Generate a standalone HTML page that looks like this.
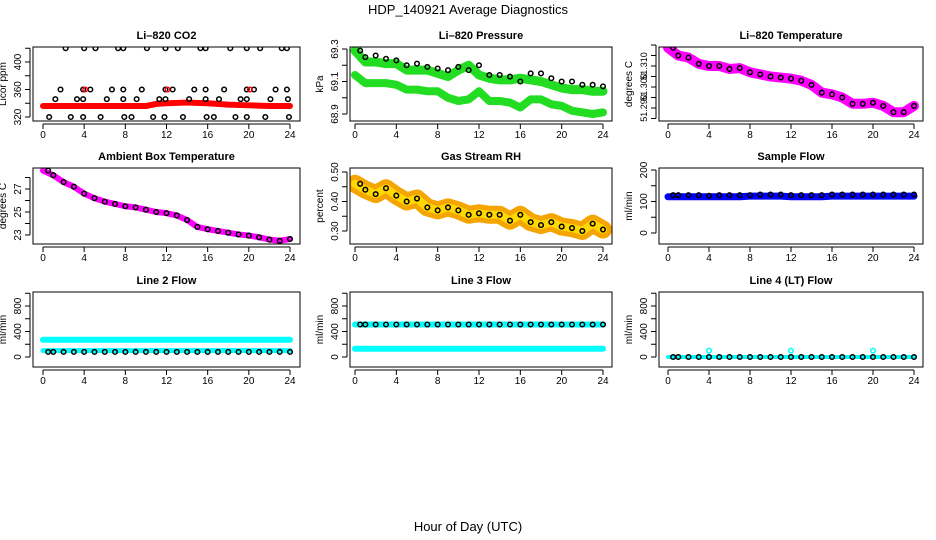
<!DOCTYPE html>
<html><head><meta charset="utf-8"><style>
body{margin:0;background:#fff;}
svg{display:block;font-family:"Liberation Sans",Arial,sans-serif;}
</style></head><body>
<svg id="chart" width="936" height="540" viewBox="0 0 936 540">
<text x="468" y="14" text-anchor="middle" font-size="13">HDP_140921  Average Diagnostics</text>
<text x="468" y="531" text-anchor="middle" font-size="13">Hour of Day (UTC)</text>
</svg>
<script>
const hoursHourly=[0,1,2,3,4,5,6,7,8,9,10,11,12,13,14,15,16,17,18,19,20,21,22,23,24];
const xTicks=[0,4,8,12,16,20,24];
// CO2
const co2RedHours=[0,2,4,6,8,10,11,12,14,16,18,20,22,24];
const co2Red=[336,336,336,336,336,336,339,340,341,340,338,337,336,336];
const co2BlackHours=[2.2,4.0,5.1,7.3,7.8,10.1,11.9,13.1,15.3,15.8,18.2,19.8,21.1,23.2,23.7,1.7,3.9,4.6,6.7,7.8,9.6,11.9,12.6,14.7,15.8,17.6,19.8,20.5,22.6,23.7,1.2,3.3,3.9,6.2,7.8,9.1,11.3,11.9,14.2,15.8,17.1,19.2,19.8,22.1,23.8,0.6,2.7,3.9,5.6,7.9,8.6,10.7,11.8,13.6,15.9,16.6,18.7,19.8,21.6,23.9];
const co2Black=[420,420,420,420,420,420,420,420,420,420,420,420,420,420,420,360,360,360,360,360,360,360,360,360,360,360,360,360,360,360,346,346,346,346,346,346,346,346,346,346,346,346,346,346,346,320,320,320,320,320,320,320,320,320,320,320,320,320,320,320];
const co2OutHours=[4.1,12.1,20.1];
const co2Out=[360,360,360];
// Pressure
const presUpper=[69.29,69.22,69.22,69.21,69.21,69.17,69.17,69.17,69.15,69.13,69.17,69.20,69.14,69.12,69.11,69.11,69.12,69.11,69.10,69.08,69.06,69.05,69.05,69.04,69.04];
const presLower=[69.14,69.09,69.09,69.09,69.08,69.05,69.05,69.04,69.04,69.00,68.98,68.99,69.04,68.98,68.98,68.97,68.94,68.99,68.99,68.96,68.95,68.92,68.91,68.90,68.91];
const presBlack=[69.29,69.25,69.26,69.24,69.23,69.20,69.21,69.19,69.18,69.17,69.19,69.17,69.20,69.14,69.14,69.13,69.10,69.15,69.15,69.12,69.10,69.10,69.08,69.08,69.07];
// Li-820 temperature
const tempLi=[51.3187,51.315,51.314,51.311,51.310,51.310,51.3086,51.309,51.307,51.306,51.305,51.3045,51.304,51.303,51.301,51.2973,51.2965,51.295,51.292,51.292,51.2925,51.291,51.288,51.288,51.291];
// Ambient
const ambient=[28.6,28.2,27.6,27.2,26.6,26.2,25.9,25.7,25.5,25.4,25.2,25.0,24.9,24.7,24.3,23.7,23.5,23.35,23.2,23.05,22.95,22.8,22.6,22.5,22.65];
// RH
const rhBlack=[0.46,0.44,0.425,0.445,0.42,0.40,0.41,0.38,0.37,0.38,0.37,0.355,0.36,0.355,0.355,0.335,0.355,0.33,0.32,0.33,0.315,0.31,0.30,0.325,0.305];
// Flows
const sampleBlue=[115,115,115,115,115,115,115,115,117,117,117,117,115,115,115,115,117,117,117,117,117,117,117,117,117];
const sampleBlack=[120,120,120,120,118,120,120,120,120,122,122,122,120,120,120,120,122,122,122,122,122,122,122,122,122];
const line2High=[270,270,270,270,270,270,270,270,270,270,270,270,270,270,270,270,270,270,270,270,270,270,270,270,270];
const line2Low=[100,100,100,100,100,100,100,100,100,100,100,100,100,100,100,100,100,100,100,100,100,100,100,100,100];
const line2Black=[80,80,80,80,80,80,80,80,80,80,80,80,80,80,80,80,80,80,80,80,80,80,80,80,80];
const line3High=[510,510,510,510,510,510,510,510,510,510,510,510,510,510,510,510,510,510,510,510,510,510,510,510,510];
const line3Low=[130,130,130,130,130,130,130,130,130,130,130,130,130,130,130,130,130,130,130,130,130,130,130,130,130];
const line3Black=[510,510,510,510,510,510,510,510,510,510,510,510,510,510,510,510,510,510,510,510,510,510,510,510,510];
const line4Cyan=[0,0,0,0,0,0,0,0,0,0,0,0,0,0,0,0,0,0,0,0,0,0,0,0,0];
const line4Black=[0,0,0,0,0,0,0,0,0,0,0,0,0,0,0,0,0,0,0,0,0,0,0,0,0];
const line4OutHours=[4,12,20];
const line4Out=[100,100,100];

const svg=document.getElementById('chart');
const NS='http://www.w3.org/2000/svg';
function mk(tag,attrs,parent){const e=document.createElementNS(NS,tag);for(const k in attrs)e.setAttribute(k,attrs[k]);(parent||svg).appendChild(e);return e;}

const cols=[{l:33,r:300,x0:43,x24:290},{l:350,r:612,x0:355,x24:603},{l:659,r:923,x0:668,x24:914}];
const rows=[{t:47,b:121},{t:168,b:244},{t:292,b:367}];

function panel(ci,ri,title,ylab,a0,p0,a1,p1,ticks,labels,name,lfs){
  const c=cols[ci],r=rows[ri];
  const g=mk('g',{});
  
  
  const sx=h=>c.x0+(c.x24-c.x0)*h/24;
  const sy=v=>p0+(v-a0)*(p1-p0)/(a1-a0);
  const t=mk('text',{x:(c.l+c.r)/2,y:r.t-8,'text-anchor':'middle','font-size':11,'font-weight':'bold'},g);
  t.textContent=title;
  
  
  const clipId='clip'+ci+ri;
  const cp=mk('clipPath',{id:clipId},g);mk('rect',{x:c.l,y:r.t,width:c.r-c.l,height:r.b-r.t},cp);
  const plot=mk('g',{'clip-path':'url(#'+clipId+')'},g);
  
  
  const box=mk('rect',{x:c.l,y:r.t,width:c.r-c.l,height:r.b-r.t,fill:'none',stroke:'#000','stroke-width':1},g);
  
  
  mk('line',{x1:sx(0),x2:sx(24),y1:r.b+3,y2:r.b+3,stroke:'#000'},g);
  xTicks.forEach(h=>{mk('line',{x1:sx(h),x2:sx(h),y1:r.b+3,y2:r.b+8,stroke:'#000'},g);
    const tl=mk('text',{x:sx(h),y:r.b+17,'text-anchor':'middle','font-size':10},g);tl.textContent=h;
    
    });
  mk('line',{x1:c.l-3,x2:c.l-3,y1:sy(ticks[0]),y2:sy(ticks[ticks.length-1]),stroke:'#000'},g);
  ticks.forEach((v,i)=>{const y=sy(v);mk('line',{x1:c.l-3,x2:c.l-8,y1:y,y2:y,stroke:'#000'},g);
    if(labels[i]){const tl=mk('text',{x:c.l-12,y:y,'text-anchor':'middle','font-size':lfs||10,transform:'rotate(-90 '+(c.l-12)+' '+y+')'},g);tl.textContent=labels[i];
    
    }});
  const ym=(r.t+r.b)/2,yx=c.l-27;
  const yl=mk('text',{x:yx,y:ym,'text-anchor':'middle','font-size':10,transform:'rotate(-90 '+yx+' '+ym+')'},g);yl.textContent=ylab;
  
  
  return {sx,sy,plot};
}
function band(P,hours,vals,color,w,name){
  const pts=hours.map((h,i)=>P.sx(h)+','+P.sy(vals[i])).join(' ');
  const e=mk('polyline',{points:pts,fill:'none',stroke:color,'stroke-width':w,'stroke-linejoin':'round','stroke-linecap':'round'},P.plot);
  
  
}
function pts(P,hours,vals,color,name,rad,fill){
  hours.forEach((h,i)=>{const e=mk('circle',{cx:P.sx(h),cy:P.sy(vals[i]),r:rad||2.3,fill:fill||'none',stroke:color,'stroke-width':1.5},P.plot);
    
    });
}
const hShift=hoursHourly.map(h=>Math.max(0.5,h));

let P=panel(0,0,'Li\u2013820 CO2','Licor ppm',320,117,400,62,[320,340,360,380,400,420],['320','','360','','400',''],'panel-co2');
band(P,co2RedHours,co2Red,'#ff0000',6,'co2-red-band');
pts(P,co2BlackHours,co2Black,'#000','co2-point');
pts(P,co2OutHours,co2Out,'#ff0000','co2-red-point');

P=panel(1,0,'Li\u2013820 Pressure','kPa',68.9,114,69.3,49,[68.9,69.0,69.1,69.2,69.3],['68.9','','69.1','','69.3'],'panel-pressure');
band(P,hoursHourly,presUpper,'#22dd22',9,'pressure-upper-band');
band(P,hoursHourly,presLower,'#22dd22',8,'pressure-lower-band');
pts(P,hShift,presBlack,'#000','pressure-point');

P=panel(2,0,'Li\u2013820 Temperature','degrees C',51.29,108,51.31,66,[51.285,51.29,51.295,51.30,51.305,51.31,51.315,51.32],['','51.290','','51.300','','51.310','',''],'panel-li-temp',9);
band(P,hoursHourly,tempLi,'#ff00ff',10,'li-temp-band');
pts(P,hShift,tempLi,'#000','li-temp-point');

P=panel(0,1,'Ambient Box Temperature','degrees C',23,235,27,189,[23,24,25,26,27,28],['23','','25','','27',''],'panel-ambient');
band(P,hoursHourly,ambient,'#ff00ff',6,'ambient-band');
pts(P,hShift,ambient,'#000','ambient-point');

P=panel(1,1,'Gas Stream RH','percent',0.30,231,0.50,172,[0.30,0.35,0.40,0.45,0.50],['0.30','','0.40','','0.50'],'panel-rh');
band(P,hoursHourly,rhBlack,'#f5a500',18,'rh-band');
band(P,hoursHourly,rhBlack,'#ffd800',8,'rh-band-core');
pts(P,hShift,rhBlack,'#000','rh-point');

P=panel(2,1,'Sample Flow','ml/min',0,233,200,170,[0,50,100,150,200],['0','','100','','200'],'panel-sample-flow');
band(P,hoursHourly,sampleBlue,'#0000ff',7,'sample-flow-band');
pts(P,hShift,sampleBlack,'#000','sample-flow-point');

P=panel(0,2,'Line 2 Flow','ml/min',0,357,800,306,[0,200,400,600,800,1000],['0','','400','','800',''],'panel-line2');
band(P,hoursHourly,line2High,'#00ffff',6,'line2-high-band');
band(P,hoursHourly,line2Low,'#00ffff',5,'line2-low-band');
pts(P,hShift,line2Black,'#000','line2-point');

P=panel(1,2,'Line 3 Flow','ml/min',0,357,800,306,[0,200,400,600,800,1000],['0','','400','','800',''],'panel-line3');
band(P,hoursHourly,line3High,'#00ffff',6,'line3-high-band');
band(P,hoursHourly,line3Low,'#00ffff',6,'line3-low-band');
pts(P,hShift,line3Black,'#000','line3-point');

P=panel(2,2,'Line 4 (LT) Flow','ml/min',0,357,800,306,[0,200,400,600,800,1000],['0','','400','','800',''],'panel-line4');
band(P,hoursHourly,line4Cyan,'#00ffff',4,'line4-band');
pts(P,hShift,line4Black,'#000','line4-point');
pts(P,line4OutHours,line4Out,'#00ffff','line4-outlier');
</script>
</body></html>
